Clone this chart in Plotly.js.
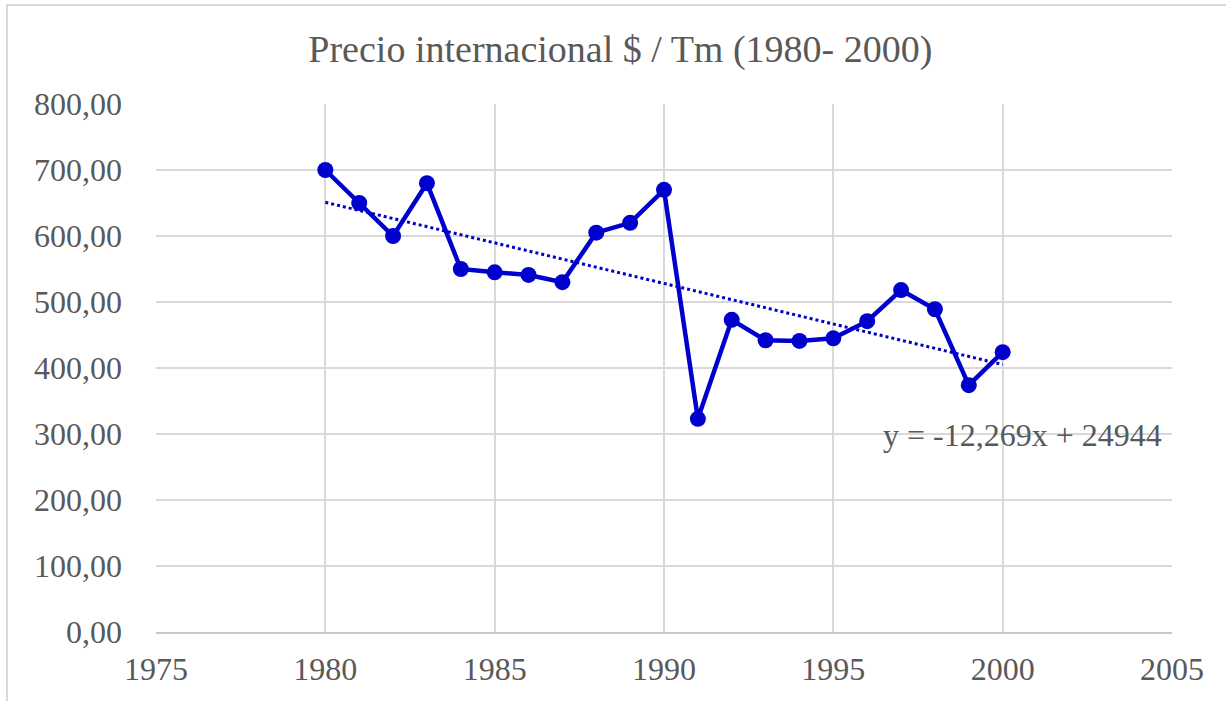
<!DOCTYPE html>
<html>
<head>
<meta charset="utf-8">
<script src="https://cdn.plot.ly/plotly-3.0.1.min.js"></script>
<style>
  html, body { margin: 0; padding: 0; background: #ffffff; }
  #wrap { position: relative; width: 1226px; height: 701px; }
  #chart { position: absolute; left: 0; top: 0; width: 1226px; height: 701px; }
  #frame { position: absolute; left: 6px; top: 4px; right: -2px; bottom: -2px;
           border-top: 2px solid #d9d9d9; border-left: 2px solid #d9d9d9; pointer-events: none; }
</style>
</head>
<body>
<div id="wrap">
  <div id="chart"></div>
  <div id="frame"></div>
</div>
<script>
// Data
const years = [1980, 1981, 1982, 1983, 1984, 1985, 1986, 1987, 1988, 1989, 1990,
               1991, 1992, 1993, 1994, 1995, 1996, 1997, 1998, 1999, 2000];
const prices = [700, 650, 600, 680, 550, 545, 541, 530, 605, 620, 670,
                323, 473, 442, 441, 445, 471, 518, 489, 374, 424];
const xTickVals = [1975, 1980, 1985, 1990, 1995, 2000, 2005];
const yTickVals = [0, 100, 200, 300, 400, 500, 600, 700, 800];
const chartTitle = 'Precio internacional $ / Tm (1980- 2000)';
const trendLabel = 'y = -12,269x + 24944';

// Linear (least squares) trendline, as in the spreadsheet
const n = years.length;
const mx = years.reduce((a, b) => a + b, 0) / n;
const my = prices.reduce((a, b) => a + b, 0) / n;
let sxy = 0, sxx = 0;
for (let i = 0; i < n; i++) { sxy += (years[i] - mx) * (prices[i] - my); sxx += (years[i] - mx) ** 2; }
const slope = sxy / sxx;
const intercept = my - slope * mx;
const trendX = [years[0], years[n - 1]];
const trendY = trendX.map(x => slope * x + intercept);

const blue = '#0000CC';
const textColor = '#595959';
const font = 'Liberation Serif, Times New Roman, serif';

const traces = [
  {
    x: trendX, y: trendY, type: 'scatter', mode: 'lines',
    line: { color: blue, width: 3, dash: 'dot' },
    hoverinfo: 'skip', showlegend: false
  },
  {
    x: years, y: prices, type: 'scatter', mode: 'lines+markers',
    line: { color: blue, width: 4.5 },
    marker: { color: blue, size: 16 },
    showlegend: false
  }
];

const layout = {
  width: 1226, height: 701,
  margin: { l: 156, r: 54, t: 104, b: 69 },
  paper_bgcolor: 'rgba(0,0,0,0)',
  plot_bgcolor: '#ffffff',
  separators: ',.',
  font: { family: font, color: textColor, size: 32 },
  title: {
    text: chartTitle,
    font: { family: font, size: 38, color: textColor },
    x: 0.506, xanchor: 'center', xref: 'container',
    y: 0.93, yanchor: 'middle'
  },
  xaxis: {
    range: [1975, 2005], tickvals: xTickVals, ticktext: xTickVals.map(String),
    showgrid: true, gridcolor: '#d9d9d9', gridwidth: 2,
    showline: true, linecolor: '#c8c8c8', linewidth: 2,
    zeroline: false, ticks: '', ticklabelstandoff: 8,
    tickfont: { family: font, size: 32, color: textColor }
  },
  yaxis: {
    range: [0, 800], tickvals: yTickVals, tickformat: '.2f',
    showgrid: true, gridcolor: '#d9d9d9', gridwidth: 2,
    showline: false, zeroline: false, ticks: '', ticklabelstandoff: 33,
    tickfont: { family: font, size: 32, color: textColor }
  },
  annotations: [{
    text: trendLabel, xref: 'x', yref: 'y', x: 2004.75, y: 298,
    xanchor: 'right', yanchor: 'middle', showarrow: false,
    font: { family: font, size: 32, color: textColor }
  }]
};

Plotly.newPlot('chart', traces, layout, { displayModeBar: false, staticPlot: true });
</script>
</body>
</html>
